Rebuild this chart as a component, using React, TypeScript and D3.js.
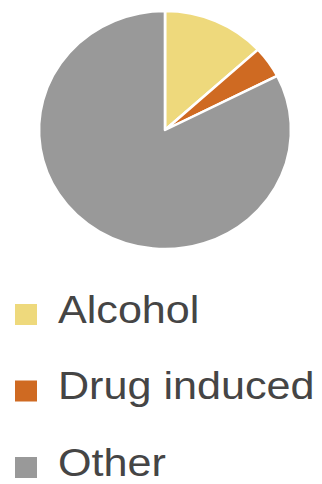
import React from "react";
import * as d3 from "d3";

const categories = ["Alcohol", "Drug induced", "Other"];
const values = [13.2, 4.3, 82.5];
const colors = ["#EED97C", "#CF6A22", "#999999"];

export default function App() {
  const W = 322, H = 484;
  const cx = 165, cy = 130, r = 119, sx = 1.059;
  const pie = d3.pie<number>().sort(null).startAngle(0).endAngle(2 * Math.PI);
  const arcs = pie(values);
  const arc = d3.arc<d3.PieArcDatum<number>>().innerRadius(0).outerRadius(r);
  const legendY = d3.scalePoint<string>().domain(categories).range([323, 476]);
  return (
    <svg width={W} height={H} style={{ position: "absolute", left: 0, top: 0, background: "#fff" }}>
      <g transform={`translate(${cx},${cy}) scale(${sx},1)`}>
        {arcs.map((a, i) => (
          <path key={i} d={arc(a) || ""} fill={colors[i]} stroke="#fff" strokeWidth={2.5} strokeLinejoin="round" />
        ))}
      </g>
      {categories.map((c, i) => {
        const y = legendY(c)!;
        return (
          <g key={c}>
            <rect x={15} y={y - 19} width={22} height={21} fill={colors[i]} />
            <text
              x={58}
              y={y}
              fontFamily="Liberation Sans, Arial, sans-serif"
              fontSize={38}
              fill="#454545"
              transform={`translate(58,0) scale(1.135,1) translate(-58,0)`}
            >
              {c}
            </text>
          </g>
        );
      })}
    </svg>
  );
}
